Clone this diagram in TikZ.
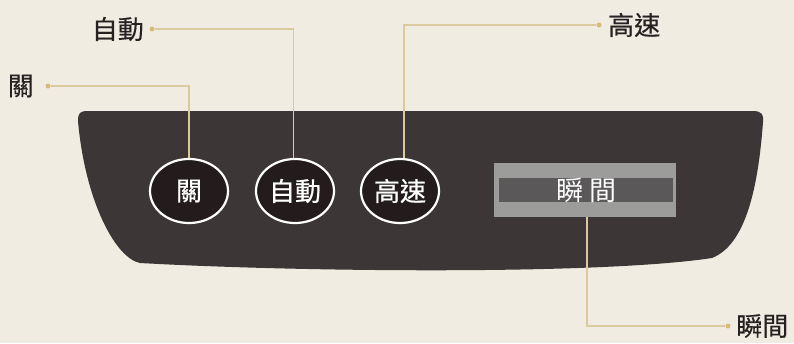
\documentclass[tikz,border=0pt]{standalone}
\usepackage{fontspec}
\newfontfamily\cjk{Noto Sans CJK TC}
\newfontfamily\cjkm[FakeBold=0.4]{Noto Sans CJK TC}
\newfontfamily\cjkb[FakeBold=0.7]{Noto Sans CJK TC}
\usetikzlibrary{shapes.geometric,calc}
\definecolor{bg}{HTML}{F0ECE1}
\definecolor{panelc}{HTML}{3D3636}
\definecolor{btnc}{HTML}{231B1C}
\definecolor{leadc}{HTML}{D9CB9E}
\definecolor{dotc}{HTML}{D6BC76}
\definecolor{txtc}{HTML}{262222}
\definecolor{dispout}{HTML}{9C9C9A}
\definecolor{dispin}{HTML}{5A5858}
\tikzset{
  btn/.style={ellipse, draw=white, line width=2.2pt, fill=btnc, minimum width=78pt, minimum height=64pt, inner sep=0pt, text=white, font=\cjkb\fontsize{26}{26}\selectfont},
  lbl/.style={text=txtc, font=\cjkm\fontsize{26}{26}\selectfont, inner sep=0pt},
  leaddot/.style={circle, fill=dotc, minimum size=5pt, inner sep=0pt},
  lead/.style={draw=leadc, line width=1.3pt},
}
\begin{document}
\begin{tikzpicture}[x=1pt,y=-1pt]
\fill[bg] (0,0) rectangle (794,343);
\useasboundingbox (0,0) rectangle (794,343);
% panel
\fill[panelc] (78,121) .. controls (78,113) and (80,111) .. (88,111) -- (753,111)
  .. controls (762,111) and (764,115) .. (763,122)
  .. controls (758,190) and (745,245) .. (712,258)
  .. controls (600,275) and (300,272) .. (140,263)
  .. controls (115,258) and (85,200) .. (78,121) -- cycle;
% buttons
\node[btn] (b1) at (189,191) {關};
\node[btn] (b2) at (295,191) {自動};
\node[btn] (b3) at (400,191) {高速};
% display
\node[rectangle, fill=dispout, minimum width=182pt, minimum height=54pt, inner sep=0pt] (disp) at (585,190) {};
\node[rectangle, fill=dispin, minimum width=174pt, minimum height=24pt, inner sep=0pt, text=white, font=\cjk\fontsize{27}{27}\selectfont] (dtext) at ([xshift=1pt]disp.center) {瞬\hspace{6pt}間};
% dots and labels
\node[leaddot] (d1) at (48,86) {};
\node[lbl, anchor=east] (l1) at ([xshift=-14pt]d1.center) {關};
\node[leaddot] (d2) at (152,29) {};
\node[lbl, anchor=east] (l2) at ([xshift=-8pt]d2.center) {自動};
\node[leaddot] (d3) at (599,25) {};
\node[lbl, anchor=west] (l3) at ([xshift=9pt]d3.center) {高速};
\node[leaddot] (d4) at (728,326) {};
\node[lbl, anchor=west] (l4) at ([xshift=8pt]d4.center) {瞬間};
% leaders
\draw[lead] (d1.east) -| (b1.north);
\draw[lead] (d2.east) -| ([xshift=-1.5pt]b2.north);
\draw[lead] (d3.west) -| ([xshift=4pt]b3.north);
\draw[lead] ([xshift=2pt]disp.south) |- (d4.west);
\end{tikzpicture}
\end{document}
